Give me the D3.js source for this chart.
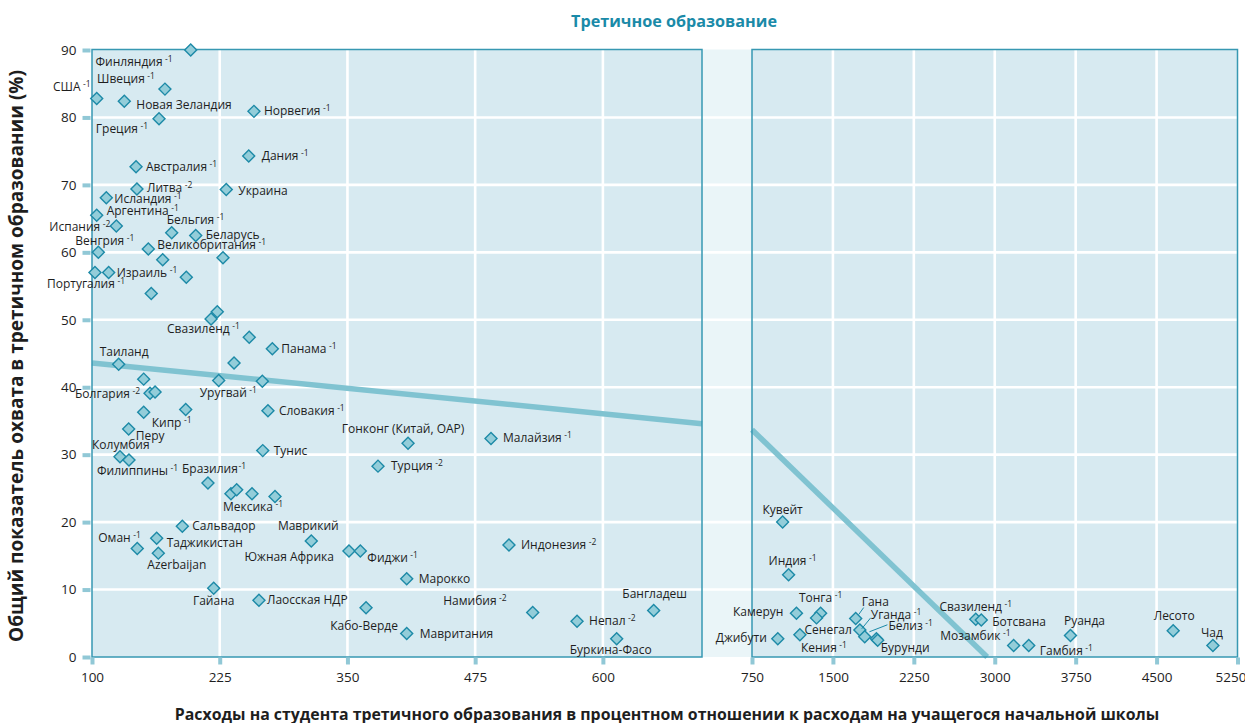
<!DOCTYPE html>
<html><head><meta charset="utf-8">
<script src="https://cdn.jsdelivr.net/npm/d3@7"></script>
<style>
body{margin:0;background:#fff}
svg{display:block}
text{font-family:"Open Sans",sans-serif;fill:#1e1e1e}
</style>
</head><body>
<svg id="c" width="1245" height="723"></svg>
<script>
// ---------------- DATA ----------------
const chartTitle = "Третичное образование";
const yTitle = "Общий показатель охвата в третичном образовании (%)";
const xTitle = "Расходы на студента третичного образования в процентном отношении к расходам на учащегося начальной школы";

const yTicks = [0,10,20,30,40,50,60,70,80,90];
const leftTicks = [100,225,350,475,600];
const rightTicks = [750,1500,2250,3000,3750,4500,5250];

// Left panel (spending 100–700)
const leftNames = ["Финляндия","Швеция","США","Новая Зеландия","Греция","Норвегия","Дания","Австралия","Литва","Украина",
 "Исландия","Аргентина","Испания","Бельгия","Беларусь","Венгрия","Великобритания","Португалия","Израиль","Свазиленд",
 "Панама","Таиланд","Уругвай","Болгария","Словакия","Кипр","Перу","Колумбия","Филиппины","Тунис",
 "Бразилия","Мексика","Сальвадор","Оман","Таджикистан","Azerbaijan","Маврикий","Южная Африка","Фиджи","Гайана",
 "Лаосская НДР","Кабо-Верде","Гонконг (Китай, ОАР)","Малайзия","Турция","Индонезия","Марокко","Мавритания","Намибия","Непал",
 "Буркина-Фасо","Бангладеш","","","","","","","","","","","","","",""];
const leftYear = ["-1","-1","-1","","-1","-1","-1","-1","-2","",
 "-1","-1","-2","-1","","-1","-1","-1","-1","-1",
 "-1","","-1","-2","-1","-1","","","-1","",
 "-1","-1","","-1","","","","","-1","",
 "","","","-1","-2","-2","","","-2","-2",
 "","","","","","","","","","","","","",""];
const leftSpend = [196.6,171.4,104.6,131.6,165.6,258.5,253.4,143.1,144.0,231.4,
 114.0,104.6,123.8,178.0,201.5,106.2,155.1,102.9,116.3,216.5,
 276.5,126.1,224.0,156.8,272.2,191.7,135.9,127.4,136.2,267.1,
 213.5,256.6,188.4,144.3,163.3,164.9,314.6,351.5,362.6,219.1,
 263.4,368.2,409.3,490.5,379.9,508.1,408.0,408.0,531.3,574.7,
 613.5,649.7,169.2,228.2,192.3,158.0,222.6,253.9,239.0,150.6,266.7,161.7,150.6,236.0,241.6,279.1];
const leftEnrol = [90.0,84.2,82.8,82.4,79.8,80.9,74.3,72.7,69.4,69.3,
 68.1,65.5,63.9,62.9,62.5,60.0,60.5,57.0,57.0,50.1,
 45.7,43.4,41.0,39.1,36.5,36.7,33.8,29.7,29.2,30.6,
 25.8,24.2,19.4,16.1,17.6,15.4,17.2,15.7,15.7,10.2,
 8.4,7.3,31.7,32.4,28.3,16.6,11.6,3.5,6.6,5.3,
 2.7,6.9,58.9,59.2,56.3,53.9,51.2,47.4,43.6,41.2,40.9,39.3,36.3,24.2,24.8,23.8];

// Right panel (spending 750–5250)
const rightNames = ["Кувейт","Индия","Камерун","Тонга","","Джибути","Кения","Гана","Сенегал","Уганда",
 "Белиз","Бурунди","Свазиленд","Ботсвана","Мозамбик","Гамбия","Руанда","Лесото","Чад"];
const rightYear = ["","-1","","-1","","","-1","","","-1","-1","","-1","","-1","-1","","",""];
const rightSpend = [1034,1089,1162,1386,1348,989,1194,1711,1750,1795,1903,1915,2824,2875,3175,3315,3702,4654,5022];
const rightEnrol = [20.0,12.2,6.5,6.5,5.8,2.7,3.3,5.7,4.0,3.0,2.7,2.5,5.6,5.5,1.7,1.7,3.2,3.9,1.7];

// Trend lines
const trendLeftX = [100,697], trendLeftY = [43.6,34.6];
const trendRightX = [750,2930], trendRightY = [33.7,0];

// ---------------- LABEL LAYOUT (anchor, dx, dy from marker) ----------------
const leftLayout = [["end",-18,16],["end",-10,-6],["end",-6,-8],["start",12,8],["end",-11,14],["start",10,4],["start",13,4],["start",10,4],["start",10,3],["start",12,5],
 ["start",8,5],["start",10,0],["end",-6,5],["start",-5,-9],["start",10,4],["start",-23,-7],["start",9,0],["start",-48,15],["start",8,4],["start",-44,14],
 ["start",9,4],["start",-19,-8],["start",-19,17],["end",-10,5],["start",11,4],["start",-34,18],["start",7,11],["start",-28,-8],["start",-32,15],["start",11,4],
 ["start",-26,-10],["start",-29,17],["start",10,4],["start",-39,-6],["start",10,9],["start",-11,16],["middle",-3,-11],["end",-15,10],["start",7,11],["middle",0,17],
 ["start",8,4],["middle",-2,22],["middle",-5,-10],["start",12,4],["start",13,4],["start",12,4],["start",12,4],["start",13,5],["end",-26,-7],["start",12,4],
 ["middle",-6,15],["middle",1,-12]];
const rightLayout = [["middle",0,-8],["middle",4,-10],["end",-13,3],["middle",0,-11],null,["end",-11,3],["start",1,17],["start",6,-13],["end",-8,4],["start",6,-18],
 ["start",12,-9],["start",3,12],["middle",0,-8],["start",11,6],["end",-3,-6],["start",11,9],["middle",14,-10],["middle",1,-11],["middle",-1,-9]];
const rightLeaders = {7:[3,-4,8,-11], 9:[-3,-8,6,-19], 10:[-7,-7,11,-14]};

// ---------------- DRAW ----------------
const svg = d3.select("#c");
const TOP = 49.5, BOT = 657;
const xL = d3.scaleLinear().domain([100,697]).range([92,702]);
const xR = d3.scaleLinear().domain([750,5250]).range([752,1237.5]);
const y = d3.scaleLinear().domain([0,90]).range([BOT,50]);

const panelFill = "#d7eaf1", gapFill = "#eaf5f8", border = "#3798b2";
const tickCol = "#91c8d6", trendCol = "#80c3d1";

// backgrounds
svg.append("rect").attr("x",702).attr("y",TOP).attr("width",50).attr("height",BOT-TOP).attr("fill",gapFill);
svg.append("rect").attr("x",92).attr("y",TOP).attr("width",610).attr("height",BOT-TOP).attr("fill",panelFill);
svg.append("rect").attr("x",752).attr("y",TOP).attr("width",485.5).attr("height",BOT-TOP).attr("fill",panelFill);

// grid
const grid = svg.append("g").attr("stroke","#fff").attr("stroke-width",2.6);
yTicks.filter(v=>v>0 && v<90).forEach(v=>{
  grid.append("line").attr("x1",92).attr("x2",1237.5).attr("y1",y(v)).attr("y2",y(v));
});
leftTicks.slice(1).forEach(v=>grid.append("line").attr("x1",xL(v)).attr("x2",xL(v)).attr("y1",TOP).attr("y2",BOT));
rightTicks.slice(1,-1).forEach(v=>grid.append("line").attr("x1",xR(v)).attr("x2",xR(v)).attr("y1",TOP).attr("y2",BOT));

// trend lines
const lineL = d3.line().x(d=>xL(d[0])).y(d=>y(d[1]));
const lineR = d3.line().x(d=>xR(d[0])).y(d=>y(d[1]));
svg.append("path").attr("d",lineL(d3.zip(trendLeftX,trendLeftY))).attr("stroke",trendCol).attr("stroke-width",5.5).attr("fill","none");
svg.append("path").attr("d",lineR(d3.zip(trendRightX,trendRightY))).attr("stroke",trendCol).attr("stroke-width",5.5).attr("fill","none");

// borders
svg.append("rect").attr("x",92).attr("y",TOP).attr("width",610).attr("height",BOT-TOP).attr("fill","none").attr("stroke",border).attr("stroke-width",1.5);
svg.append("rect").attr("x",752).attr("y",TOP).attr("width",485.5).attr("height",BOT-TOP).attr("fill","none").attr("stroke",border).attr("stroke-width",1.5);

// axes
const fmt = d3.format("d");
function styleAxis(g){
  g.select(".domain").remove();
  g.selectAll(".tick line").attr("stroke",tickCol).attr("stroke-width",4);
  g.selectAll(".tick text").attr("fill","#1e1e1e").style("font-size","13.5px").style("font-family",'"Open Sans",sans-serif');
}
svg.append("g").attr("transform","translate(90.5,0)")
  .call(d3.axisLeft(y).tickValues(yTicks).tickFormat(fmt).tickSize(8).tickPadding(6)).call(styleAxis);
svg.append("g").attr("transform",`translate(0,${BOT+0.5})`)
  .call(d3.axisBottom(xL).tickValues(leftTicks).tickFormat(fmt).tickSize(7).tickPadding(8)).call(styleAxis);
const axR = svg.append("g").attr("transform",`translate(0,${BOT+0.5})`)
  .call(d3.axisBottom(xR).tickValues(rightTicks).tickFormat(fmt).tickSize(7).tickPadding(8)).call(styleAxis);
axR.selectAll(".tick text").filter(d=>d===5250).attr("dx",-7);

// markers
const sym = d3.symbol().type(d3.symbolSquare).size(72);
function drawPoints(xs, ys, xs_scale){
  svg.append("g").selectAll("path").data(d3.zip(xs,ys)).join("path")
    .attr("d",sym)
    .attr("transform",d=>`translate(${xs_scale(d[0])},${y(d[1])}) rotate(45)`)
    .attr("fill","#93cdd9").attr("stroke","#1d8aa7").attr("stroke-width",1.4);
}
drawPoints(leftSpend,leftEnrol,xL);
drawPoints(rightSpend,rightEnrol,xR);

// labels
function drawLabels(names, years, xs, ys, layout, sc, leaders){
  const g = svg.append("g").style("font-size","12px");
  names.forEach((n,i)=>{
    if(!n || !layout[i]) return;
    const [a,dx,dy] = layout[i];
    const px = sc(xs[i]), py = y(ys[i]);
    const t = g.append("text").attr("x",px+dx).attr("y",py+dy).attr("text-anchor",a);
    t.append("tspan").text(n);
    if(years[i]) t.append("tspan").attr("dx",n==="Бразилия"?0.5:2.5).attr("dy",-4).style("font-size","8.5px").text(years[i]);
    if(leaders && leaders[i]){
      const l = leaders[i];
      g.append("line").attr("x1",px+l[0]).attr("y1",py+l[1]).attr("x2",px+l[2]).attr("y2",py+l[3])
        .attr("stroke","#1d8aa7").attr("stroke-width",1);
    }
  });
}
drawLabels(leftNames,leftYear,leftSpend,leftEnrol,leftLayout,xL,null);
drawLabels(rightNames,rightYear,rightSpend,rightEnrol,rightLayout,xR,rightLeaders);

// titles
function fit(t, target){
  const w = t.node().getComputedTextLength();
  const fs = parseFloat(t.style("font-size"));
  t.style("font-size",(fs*target/w)+"px");
}
const tt = svg.append("text").attr("x",674).attr("y",27).attr("text-anchor","middle")
  .style("font-size","15px").style("font-weight","bold").style("fill","#1a8aa8").text(chartTitle);
fit(tt,206);
const yt = svg.append("text").attr("transform","translate(22.5,356) rotate(-90)").attr("text-anchor","middle")
  .style("font-size","15px").style("font-weight","bold").text(yTitle);
fit(yt,572);
const xt = svg.append("text").attr("x",667).attr("y",720).attr("text-anchor","middle")
  .style("font-size","14px").style("font-weight","bold").text(xTitle);
fit(xt,985);
</script>
</body></html>
